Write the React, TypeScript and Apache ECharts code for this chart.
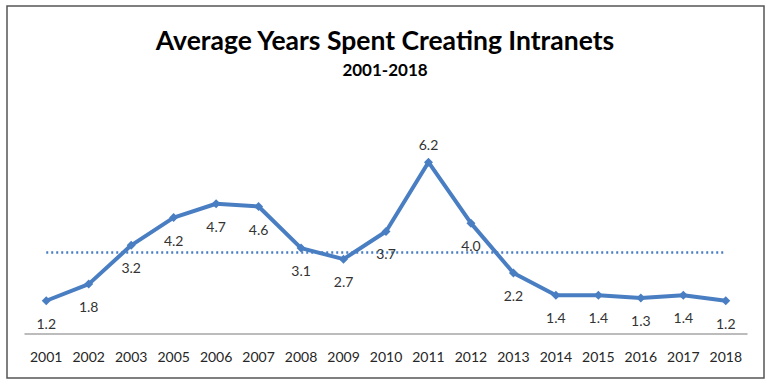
import React, { useEffect, useRef } from "react";
import * as echarts from "echarts";

const categories = ["2001", "2002", "2003", "2005", "2006", "2007", "2008", "2009", "2010", "2011", "2012", "2013", "2014", "2015", "2016", "2017", "2018"];
const values = [1.2, 1.8, 3.2, 4.2, 4.7, 4.6, 3.1, 2.7, 3.7, 6.2, 4.0, 2.2, 1.4, 1.4, 1.3, 1.4, 1.2];
const averageValue = 2.95;
const titleText = "Average Years Spent Creating Intranets";
const subtitleText = "2001-2018";

export default function App() {
  const ref = useRef<HTMLDivElement>(null);
  useEffect(() => {
    if (!ref.current) return;
    const chart = echarts.init(ref.current, null, { renderer: "svg" });
    const font = "Lato, 'Open Sans', sans-serif";
    chart.setOption({
      animation: false,
      backgroundColor: "#ffffff",
      title: {
        text: titleText,
        subtext: subtitleText,
        left: "center",
        top: 21,
        itemGap: 8,
        textStyle: { fontFamily: font, fontSize: 26.5, fontWeight: "bold", color: "#000000" },
        subtextStyle: { fontFamily: font, fontSize: 17, fontWeight: "bold", color: "#000000" },
      },
      graphic: [
        {
          type: "rect",
          shape: { x: 7, y: 6, width: 757, height: 372 },
          style: { fill: "none", stroke: "#555555", lineWidth: 1.5 },
          silent: true,
          z: 100,
        },
      ],
      grid: { left: 25, right: 23, top: 140, bottom: 51 },
      xAxis: {
        type: "category",
        data: categories,
        boundaryGap: true,
        axisLine: { lineStyle: { color: "#a6a6a6", width: 1.5 } },
        axisTick: { show: false },
        axisLabel: { fontFamily: font, fontSize: 14, color: "#262626", margin: 15 },
      },
      yAxis: {
        type: "value",
        min: 0,
        max: 7,
        show: false,
        splitLine: { show: false },
      },
      series: [
        {
          type: "line",
          data: values.map((v, i) => ({
            value: v,
            label: i === 9 ? { position: "top", distance: 6 } : { position: "bottom", distance: 11 },
          })),
          symbol: "diamond",
          symbolSize: 9,
          lineStyle: { color: "#4a7ec2", width: 4 },
          itemStyle: { color: "#4a7ec2" },
          label: {
            show: true,
            fontFamily: font,
            fontSize: 14,
            color: "#333333",
            formatter: (p: any) => Number(p.value).toFixed(1),
          },
          markLine: {
            silent: true,
            symbol: "none",
            label: { show: false },
            lineStyle: { type: [2, 3], color: "#4a7ec2", width: 2.5 },
            data: [[{ xAxis: 0, yAxis: averageValue }, { xAxis: categories.length - 1, yAxis: averageValue }]],
            z: 1,
          },
        },
      ],
    });
    return () => chart.dispose();
  }, []);
  return <div ref={ref} style={{ position: "absolute", left: 0, top: 0, width: 770, height: 385 }} />;
}
